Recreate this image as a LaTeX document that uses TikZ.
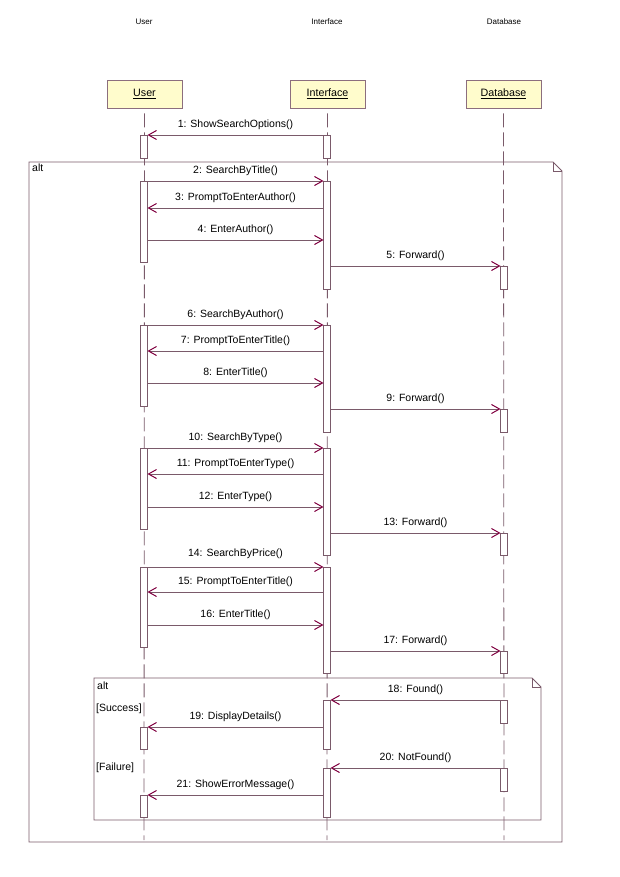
\documentclass[tikz,border=0pt]{standalone}
\usepackage{fontspec}
\setmainfont{Liberation Sans}
\usetikzlibrary{arrows.meta}
\definecolor{ln}{HTML}{7A5A6A}
\definecolor{ah}{HTML}{800040}
\definecolor{hb}{HTML}{8C6E7E}
\definecolor{hd}{HTML}{FFFCCC}
\begin{document}
\begin{tikzpicture}[x=1pt,y=-1pt,
  head/.style={draw=hb, fill=hd, line width=0.8pt, minimum width=75pt, minimum height=28pt, inner sep=0pt, font=\fontsize{10.7}{12}\selectfont},
  ttl/.style={font=\fontsize{8}{9}\selectfont, inner sep=0pt},
  act/.style={draw=ln, fill=white, line width=0.8pt, minimum width=7pt, inner sep=0pt, outer sep=0pt, anchor=north},
  life/.style={draw=ln, line width=0.8pt, dash pattern=on 14pt off 5pt, dash phase=14pt},
  msg/.style={draw=ln, line width=0.8pt, -{Straight Barb[length=8pt,width=9pt,color=ah,line width=1pt]}},
  lbl/.style={anchor=south, inner sep=0pt, yshift=5pt, font=\fontsize{10.5}{12}\selectfont, text=black},
  frm/.style={draw=ln, line width=0.8pt},
  ftxt/.style={anchor=west, inner sep=0pt, font=\fontsize{10.5}{12}\selectfont}]
\useasboundingbox (0,0) rectangle (620,877);

% titles
\node[ttl] (tu) at (144,22) {User};
\node[ttl] (ti) at (327,22) {Interface};
\node[ttl] (td) at (504,22) {Database};

% heads
\node[head] (uh) at (144.5,94) {\underline{User}};
\node[head] (ih) at (327.5,94) {\underline{Interface}};
\node[head] (dh) at (503.5,94) {\underline{Database}};

% frames
\draw[frm] (29,162) -- (553,162) -- (562,171) -- (562,842) -- (29,842) -- cycle;
\draw[frm] (553,162) -- (553,171) -- (562,171);
\draw[frm] (94,678) -- (532,678) -- (541,687) -- (541,820) -- (94,820) -- cycle;
\draw[frm] (532,678) -- (532,687) -- (541,687);
\node[ftxt] (alt1) at (32,168) {alt};
\node[ftxt] (alt2) at (97,686) {alt};
\node[ftxt] (succ) at (96,709) {[Success]};
\node[ftxt] (fail) at (96,768) {[Failure]};

% lifelines
\coordinate (ue) at (144,840);
\coordinate (ie) at (327,840);
\coordinate (de) at (504,840);
\draw[life] (uh.south) -- (ue);
\draw[life] (ih.south) -- (ie);
\draw[life] (dh.south) -- (de);

% activations
\node[act, minimum height=23pt] (u1) at (144,135) {};
\node[act, minimum height=81pt] (u2) at (144,181) {};
\node[act, minimum height=81pt] (u3) at (144,325) {};
\node[act, minimum height=81pt] (u4) at (144,448) {};
\node[act, minimum height=80pt] (u5) at (144,567) {};
\node[act, minimum height=22pt] (u6) at (144,727) {};
\node[act, minimum height=22pt] (u7) at (144,795) {};

\node[act, minimum height=23pt] (i1) at (327,135) {};
\node[act, minimum height=108pt] (i2) at (327,181) {};
\node[act, minimum height=107pt] (i3) at (327,325) {};
\node[act, minimum height=107pt] (i4) at (327,448) {};
\node[act, minimum height=106pt] (i5) at (327,567) {};
\node[act, minimum height=49pt] (i6) at (327,700) {};
\node[act, minimum height=49pt] (i7) at (327,768) {};

\node[act, minimum height=23pt] (d1) at (504,266) {};
\node[act, minimum height=23pt] (d2) at (504,409) {};
\node[act, minimum height=22pt] (d3) at (504,533) {};
\node[act, minimum height=22pt] (d4) at (504,651) {};
\node[act, minimum height=23pt] (d5) at (504,700) {};
\node[act, minimum height=23pt] (d6) at (504,768) {};

% message levels
\coordinate (m1) at (0,135);
\coordinate (m2) at (0,181);
\coordinate (m3) at (0,208);
\coordinate (m4) at (0,240);
\coordinate (m5) at (0,266);
\coordinate (m6) at (0,325);
\coordinate (m7) at (0,351);
\coordinate (m8) at (0,383);
\coordinate (m9) at (0,409);
\coordinate (m10) at (0,448);
\coordinate (m11) at (0,474);
\coordinate (m12) at (0,507);
\coordinate (m13) at (0,533);
\coordinate (m14) at (0,567);
\coordinate (m15) at (0,592);
\coordinate (m16) at (0,625);
\coordinate (m17) at (0,651);
\coordinate (m18) at (0,700);
\coordinate (m19) at (0,727);
\coordinate (m20) at (0,768);
\coordinate (m21) at (0,795);

% messages
\draw[msg] (i1.west |- m1) -- node[lbl]{1: ShowSearchOptions()} (u1.east |- m1);
\draw[msg] (u2.east |- m2) -- node[lbl]{2: SearchByTitle()} (i2.west |- m2);
\draw[msg] (i2.west |- m3) -- node[lbl]{3: PromptToEnterAuthor()} (u2.east |- m3);
\draw[msg] (u2.east |- m4) -- node[lbl]{4: EnterAuthor()} (i2.west |- m4);
\draw[msg] (i2.east |- m5) -- node[lbl]{5: Forward()} (d1.west |- m5);

\draw[msg] (u3.east |- m6) -- node[lbl]{6: SearchByAuthor()} (i3.west |- m6);
\draw[msg] (i3.west |- m7) -- node[lbl]{7: PromptToEnterTitle()} (u3.east |- m7);
\draw[msg] (u3.east |- m8) -- node[lbl]{8: EnterTitle()} (i3.west |- m8);
\draw[msg] (i3.east |- m9) -- node[lbl]{9: Forward()} (d2.west |- m9);

\draw[msg] (u4.east |- m10) -- node[lbl]{10: SearchByType()} (i4.west |- m10);
\draw[msg] (i4.west |- m11) -- node[lbl]{11: PromptToEnterType()} (u4.east |- m11);
\draw[msg] (u4.east |- m12) -- node[lbl]{12: EnterType()} (i4.west |- m12);
\draw[msg] (i4.east |- m13) -- node[lbl]{13: Forward()} (d3.west |- m13);

\draw[msg] (u5.east |- m14) -- node[lbl, yshift=3pt]{14: SearchByPrice()} (i5.west |- m14);
\draw[msg] (i5.west |- m15) -- node[lbl]{15: PromptToEnterTitle()} (u5.east |- m15);
\draw[msg] (u5.east |- m16) -- node[lbl]{16: EnterTitle()} (i5.west |- m16);
\draw[msg] (i5.east |- m17) -- node[lbl]{17: Forward()} (d4.west |- m17);

\draw[msg] (d5.west |- m18) -- node[lbl]{18: Found()} (i6.east |- m18);
\draw[msg] (i6.west |- m19) -- node[lbl]{19: DisplayDetails()} (u6.east |- m19);
\draw[msg] (d6.west |- m20) -- node[lbl]{20: NotFound()} (i7.east |- m20);
\draw[msg] (i7.west |- m21) -- node[lbl]{21: ShowErrorMessage()} (u7.east |- m21);
\end{tikzpicture}
\end{document}
